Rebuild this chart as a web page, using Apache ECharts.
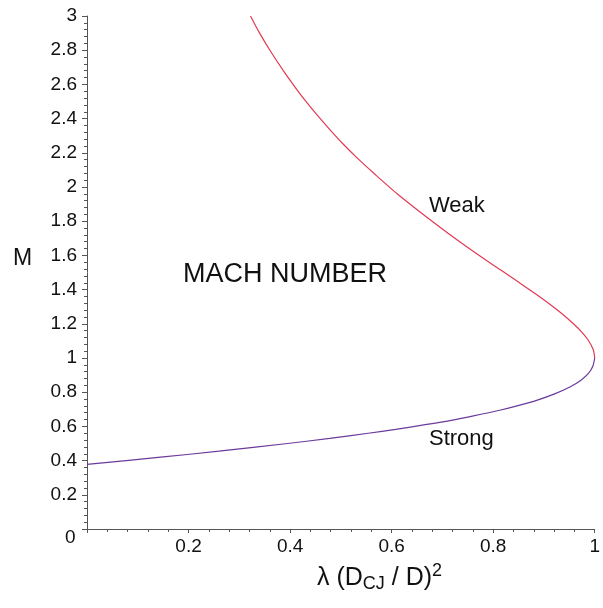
<!DOCTYPE html>
<html>
<head>
    <meta charset="utf-8">
    <title>Mach number</title>
    <script src="https://cdn.jsdelivr.net/npm/echarts@6/dist/echarts.min.js"></script>
    <style>
        html, body {
            margin: 0;
            padding: 0;
            background: #fff;
        }

        #main {
            width: 603px;
            height: 608px;
        }
    </style>
</head>
<body>
<div id="main"></div>
<script type="text/javascript">
    var myChart = echarts.init(document.getElementById('main'));

    // weak branch, from the top of the plot down to the nose
    const weakLambda = [0.322, 0.340, 0.364, 0.389, 0.414, 0.434, 0.456, 0.480, 0.503, 0.532, 0.565, 0.615,
        0.672, 0.711, 0.757, 0.802, 0.844, 0.876, 0.909, 0.935, 0.957, 0.975, 0.987, 0.997, 1.0];
    const weakMach = [3.0, 2.9, 2.782, 2.67, 2.567, 2.49, 2.411, 2.33, 2.256, 2.17, 2.080, 1.95,
        1.817, 1.73, 1.632, 1.54, 1.456, 1.39, 1.320, 1.26, 1.203, 1.15, 1.105, 1.05, 1.0];

    // strong branch, from the nose back to the left axis
    const strongLambda = [1.0, 0.996, 0.988, 0.973, 0.952, 0.921, 0.887, 0.847, 0.815, 0.759, 0.720,
        0.666, 0.608, 0.554, 0.478, 0.395, 0.260, 0.145, 0.0];
    const strongMach = [1.0, 0.95, 0.911, 0.87, 0.832, 0.79, 0.754, 0.72, 0.696, 0.66, 0.637,
        0.61, 0.583, 0.56, 0.530, 0.50, 0.455, 0.42, 0.378];

    const colors = ['#e23a52', '#6b3a9c'];
    const font = 'Liberation Sans, Arial, sans-serif';

    function pairs(xs, ys) {
        return xs.map((x, i) => [x, ys[i]]);
    }

    var option = {
        animation: false,
        backgroundColor: '#fff',
        grid: {
            left: 87,
            right: 5,
            top: 16,
            bottom: 79
        },
        xAxis: {
            type: 'value',
            min: 0,
            max: 1,
            interval: 0.2,
            axisLine: {lineStyle: {color: '#555', width: 1}},
            axisTick: {length: 4, lineStyle: {color: '#555'}},
            minorTick: {show: true, splitNumber: 5, length: 3, lineStyle: {color: '#555'}},
            splitLine: {show: false},
            axisLabel: {
                showMinLabel: false,
                color: '#111',
                fontSize: 19,
                fontFamily: font,
                margin: 8
            }
        },
        yAxis: {
            type: 'value',
            min: 0,
            max: 3,
            interval: 0.2,
            axisLine: {show: true, lineStyle: {color: '#555', width: 1}},
            axisTick: {show: true, length: 5, lineStyle: {color: '#555'}},
            minorTick: {show: true, splitNumber: 5, length: 3, lineStyle: {color: '#555'}},
            splitLine: {show: false},
            axisLabel: {
                showMinLabel: false,
                color: '#111',
                fontSize: 19,
                fontFamily: font,
                margin: 10
            }
        },
        graphic: [
            {type: 'text', left: 65, top: 528, style: {text: '0', font: '19px ' + font, fill: '#111'}},
            {type: 'text', left: 13, top: 247, style: {text: 'M', font: '23px ' + font, fill: '#111'}},
            {type: 'text', left: 183, top: 261, style: {text: 'MACH NUMBER', font: '27px ' + font, fill: '#111'}},
            {type: 'text', left: 429, top: 195, style: {text: 'Weak', font: '22px ' + font, fill: '#111'}},
            {type: 'text', left: 429, top: 428, style: {text: 'Strong', font: '22px ' + font, fill: '#111'}},
            {
                type: 'text', left: 317, top: 562,
                style: {
                    rich: {
                        n: {fontSize: 25, fontFamily: font, fill: '#111'},
                        sub: {fontSize: 18, fontFamily: font, fill: '#111', padding: [12, 0, 0, 0]},
                        sup: {fontSize: 18, fontFamily: font, fill: '#111', padding: [0, 0, 14, 0]}
                    },
                    text: '{n|λ (D}{sub|CJ}{n| / D)}{sup|2}'
                }
            }
        ],
        series: [
            {
                name: 'Weak',
                type: 'line',
                data: pairs(weakLambda, weakMach),
                smooth: 0.3,
                smoothConstraint: false,
                showSymbol: false,
                lineStyle: {color: colors[0], width: 1.2}
            },
            {
                name: 'Strong',
                type: 'line',
                data: pairs(strongLambda, strongMach),
                smooth: 0.3,
                smoothConstraint: false,
                showSymbol: false,
                lineStyle: {color: colors[1], width: 1.2}
            }
        ]
    };

    myChart.setOption(option);
</script>
</body>
</html>
